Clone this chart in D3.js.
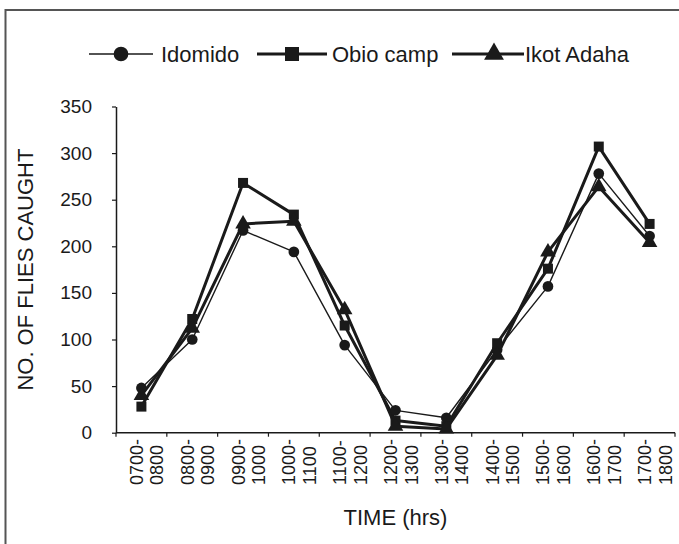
<!DOCTYPE html>
<html>
<head>
<meta charset="utf-8">
<script src="https://cdn.jsdelivr.net/npm/d3@7/dist/d3.min.js"></script>
<style>
  html, body { margin: 0; padding: 0; background: #fff; }
  svg { display: block; font-family: "Liberation Sans", Arial, sans-serif; }
</style>
</head>
<body>
<svg id="chart" width="679" height="544"></svg>
<script>
// ---- data ----
const categories = ["0700-0800","0800-0900","0900-1000","1000-1100","1100-1200","1200-1300",
                    "1300-1400","1400-1500","1500-1600","1600-1700","1700-1800"];
const idomido   = [48, 100, 217, 194, 94, 24, 16, 89, 157, 278, 211];
const obioCamp  = [28, 122, 268, 234, 115, 13, 7, 96, 176, 307, 224];
const ikotAdaha = [40, 112, 224, 227, 132, 7, 4, 83, 194, 264, 204];
const yTicks = [0, 50, 100, 150, 200, 250, 300, 350];
const seriesNames = ["Idomido", "Obio camp", "Ikot Adaha"];

(function () {
const series = [
  { name: seriesNames[0], values: idomido,   symbol: d3.symbolCircle,   width: 1.4, size: 90,  legSize: 170 },
  { name: seriesNames[1], values: obioCamp,  symbol: d3.symbolSquare,   width: 3,   size: 100, legSize: 196 },
  { name: seriesNames[2], values: ikotAdaha, symbol: d3.symbolTriangle, width: 3,   size: 105, legSize: 170 }
];

const svg = d3.select("#chart");
const ink = "#1a1a1a";

// outer frame (extends past right/bottom edges)
svg.append("rect").attr("x", 5.5).attr("y", 10).attr("width", 700).attr("height", 560)
  .attr("fill", "none").attr("stroke", "#555").attr("stroke-width", 2);

const pLeft = 116, pRight = 675, pTop = 106.5, pBottom = 432.7;

const x = d3.scaleBand().domain(categories).range([pLeft, pRight]).padding(0);
const y = d3.scaleLinear().domain([0, 350]).range([pBottom, pTop]);

// y axis
const yAxis = d3.axisLeft(y).tickValues(yTicks).tickSize(4).tickSizeOuter(0);
const gy = svg.append("g").attr("transform", `translate(${pLeft},0)`).call(yAxis);
gy.select(".domain").attr("stroke", ink).attr("stroke-width", 1.5);
gy.selectAll(".tick line").attr("stroke", ink).attr("stroke-width", 1.2);
gy.selectAll(".tick text").attr("font-size", 19).attr("fill", ink)
  .attr("font-family", "Liberation Sans, Arial, sans-serif").attr("x", -24);

// x axis: ticks at category boundaries
const gx = svg.append("g").attr("transform", `translate(0,${pBottom})`);
gx.append("line").attr("x1", pLeft).attr("x2", pRight).attr("y1", 0).attr("y2", 0)
  .attr("stroke", ink).attr("stroke-width", 1.5);
const boundaries = categories.map(c => x(c)).concat([x(categories[categories.length-1]) + x.bandwidth()]);
gx.selectAll("line.tk").data(boundaries).enter().append("line").attr("class", "tk")
  .attr("x1", d => d).attr("x2", d => d).attr("y1", 0).attr("y2", 4)
  .attr("stroke", ink).attr("stroke-width", 1.2);

// x tick labels (rotated, two lines)
categories.forEach(c => {
  const parts = c.split("-");
  const cx = x(c) + x.bandwidth() / 2;
  const lines = [parts[0] + "-", parts[1]];
  lines.forEach((t, i) => {
    const bx = cx + 1.5 + i * 20.5;
    svg.append("text").text(t)
      .attr("transform", `translate(${bx},485) rotate(-90)`)
      .attr("text-anchor", "start").attr("font-size", 18).attr("fill", ink);
  });
});

// axis titles
svg.append("text").text("NO. OF FLIES CAUGHT")
  .attr("transform", `translate(33,${(pTop + pBottom) / 2}) rotate(-90)`)
  .attr("text-anchor", "middle").attr("font-size", 22).attr("fill", ink);
svg.append("text").text("TIME (hrs)")
  .attr("x", (pLeft + pRight) / 2).attr("y", 525)
  .attr("text-anchor", "middle").attr("font-size", 22).attr("fill", ink);

// series
const line = d3.line().x((d, i) => x(categories[i]) + x.bandwidth() / 2).y(d => y(d));
series.forEach(s => {
  svg.append("path").datum(s.values).attr("d", line)
    .attr("fill", "none").attr("stroke", ink).attr("stroke-width", s.width)
    .attr("stroke-linejoin", "round");
});
series.forEach(s => {
  svg.selectAll(null).data(s.values).enter().append("path")
    .attr("d", d3.symbol().type(s.symbol).size(s.size))
    .attr("transform", (d, i) => `translate(${x(categories[i]) + x.bandwidth() / 2},${y(d)})`)
    .attr("fill", ink);
});

// legend
const legY = 54;
const legItems = [
  { s: series[0], x1: 89,  x2: 153, mx: 121, tx: 161 },
  { s: series[1], x1: 257, x2: 327, mx: 292, tx: 332 },
  { s: series[2], x1: 452, x2: 524, mx: 494, tx: 525 }
];
legItems.forEach(l => {
  svg.append("line").attr("x1", l.x1).attr("x2", l.x2).attr("y1", legY).attr("y2", legY)
    .attr("stroke", ink).attr("stroke-width", l.s.width);
  svg.append("path").attr("d", d3.symbol().type(l.s.symbol).size(l.s.legSize))
    .attr("transform", `translate(${l.mx},${legY})`).attr("fill", ink);
  svg.append("text").text(l.s.name).attr("x", l.tx).attr("y", legY + 8)
    .attr("font-size", 22).attr("fill", ink);
});
})();
</script>
</body>
</html>
